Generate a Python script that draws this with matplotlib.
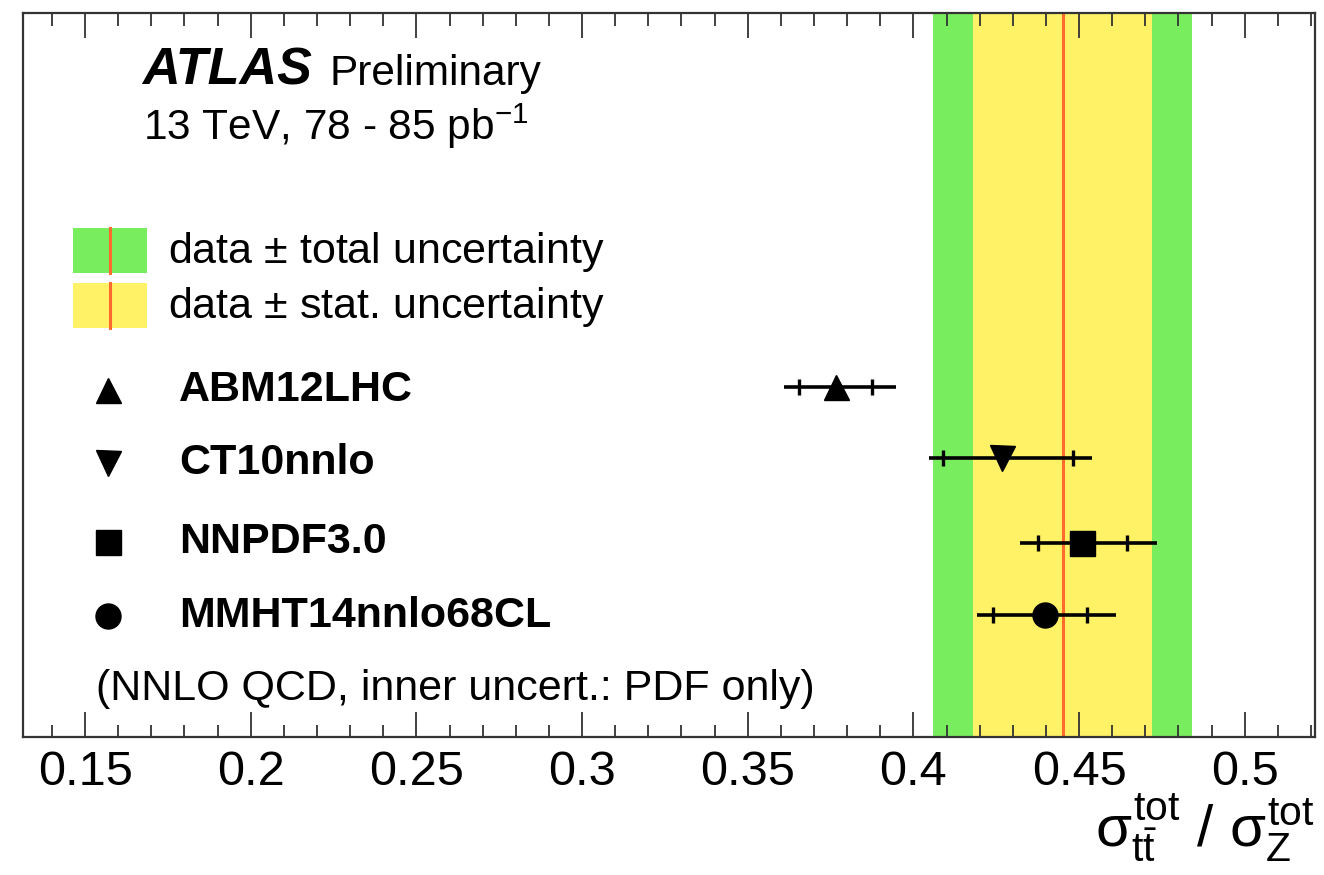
import numpy as np
import matplotlib
matplotlib.use('Agg')
import matplotlib.pyplot as plt
from matplotlib.ticker import MultipleLocator, FormatStrFormatter
from matplotlib.patches import Rectangle

plt.rcParams['font.family'] = ['Liberation Sans', 'DejaVu Sans']
plt.rcParams['mathtext.fontset'] = 'custom'
plt.rcParams['mathtext.rm'] = 'Liberation Sans'
plt.rcParams['mathtext.it'] = 'Liberation Sans'
plt.rcParams['mathtext.bf'] = 'Liberation Sans:bold'

# measured ratio sigma(ttbar)/sigma(Z) with stat. and total uncertainty
data_ratio = 0.445
data_stat = 0.027
data_total = 0.039

# NNLO QCD predictions per PDF set: central value, full band, PDF-only band
pdf_sets = ['ABM12LHC', 'CT10nnlo', 'NNPDF3.0', 'MMHT14nnlo68CL']
pred = np.array([0.3765, 0.4267, 0.4510, 0.4396])
pred_lo = np.array([0.3608, 0.4046, 0.4321, 0.4192])
pred_hi = np.array([0.3948, 0.4538, 0.4734, 0.4610])
pdf_lo = np.array([0.3656, 0.4088, 0.4377, 0.4240])
pdf_hi = np.array([0.3876, 0.4481, 0.4645, 0.4524])

# layout (axes fractions)
markers = ['^', 'v', 's', 'o']
rows = [0.484, 0.386, 0.268, 0.169]
label_rows = [0.480, 0.379, 0.270, 0.167]

green = '#78ee5e'
yellow = '#fff266'
red = '#ff6a2e'

fig = plt.figure(figsize=(13.24, 8.75), dpi=100)
ax = fig.add_axes([0.0177, 0.1577, 0.9755, 0.8269])
ax.set_xlim(0.1314, 0.5212)
ax.set_ylim(0, 1)

# data bands and central value
ax.axvspan(data_ratio - data_total, data_ratio + data_total, color=green, lw=0, zorder=0)
ax.axvspan(data_ratio - data_stat, data_ratio + data_stat, color=yellow, lw=0, zorder=0.5)
ax.axvline(data_ratio, color=red, lw=2.2, zorder=1)

# predictions: outer line = full uncertainty, ticks = PDF only
ax.errorbar(pred, rows, xerr=[pred - pred_lo, pred_hi - pred], fmt='none',
            ecolor='k', elinewidth=2.6, capsize=0, zorder=3)
for i in range(len(pdf_sets)):
    ax.plot([pdf_lo[i], pdf_hi[i]], [rows[i], rows[i]], ls='none', marker='|',
            ms=11, mew=2.4, color='k', zorder=3)
    ax.plot(pred[i], rows[i], marker=markers[i], ms=18, color='k', ls='none', zorder=4)

# axis styling
ax.xaxis.set_major_locator(MultipleLocator(0.05))
ax.xaxis.set_minor_locator(MultipleLocator(0.01))
ax.xaxis.set_major_formatter(FormatStrFormatter('%g'))
ax.tick_params(axis='x', which='major', direction='in', top=True, length=18,
               width=1.3, labelsize=35, pad=9, color='#333333')
ax.tick_params(axis='x', which='minor', direction='in', top=True, length=9,
               width=1.3, color='#333333')
ax.set_yticks([])
for s in ax.spines.values():
    s.set_linewidth(1.6)
    s.set_color('#333333')

# labels
ax.text(0.0918, 0.9012, 'ATLAS', transform=ax.transAxes, fontsize=37.5,
        fontweight='bold', fontstyle='italic', va='baseline')
ax.text(0.2373, 0.9012, 'Preliminary', transform=ax.transAxes, fontsize=30.5, va='baseline')
ax.text(0.0925, 0.8252, r'13 TeV, 78 - 85 pb$^{-1}$', transform=ax.transAxes,
        fontsize=30.5, va='baseline')

# legend for the data bands
for fc, y0, y1, yt, txt in [(green, 0.6413, 0.7035, 0.6551, r'data $\pm$ total uncertainty'),
                            (yellow, 0.5653, 0.6275, 0.5791, r'data $\pm$ stat. uncertainty')]:
    ax.add_patch(Rectangle((0.0383, y0), 0.0573, y1 - y0, transform=ax.transAxes,
                           facecolor=fc, lw=0, zorder=2))
    ax.plot([0.0670, 0.0670], [y0, y1], transform=ax.transAxes, color=red, lw=2.2, zorder=2.1)
    ax.text(0.1119, yt, txt, transform=ax.transAxes, fontsize=31, va='baseline')

# legend for the predictions
for i in range(len(pdf_sets)):
    ax.plot(0.0654, label_rows[i], marker=markers[i], ms=18, color='k',
            transform=ax.transAxes, clip_on=False)
    ax.text(0.1204, label_rows[i], pdf_sets[i], transform=ax.transAxes, fontsize=31,
            fontweight='bold', va='center')

ax.text(0.0561, 0.0511, '(NNLO QCD, inner uncert.: PDF only)', transform=ax.transAxes,
        fontsize=31, va='baseline')

fig.text(0.9932, 0.032, r'$\sigma^{\mathrm{tot}}_{t\bar{t}}$ / $\sigma^{\mathrm{tot}}_{Z}$',
         ha='right', va='baseline', fontsize=42)

fig.savefig('out.png', dpi=100)
